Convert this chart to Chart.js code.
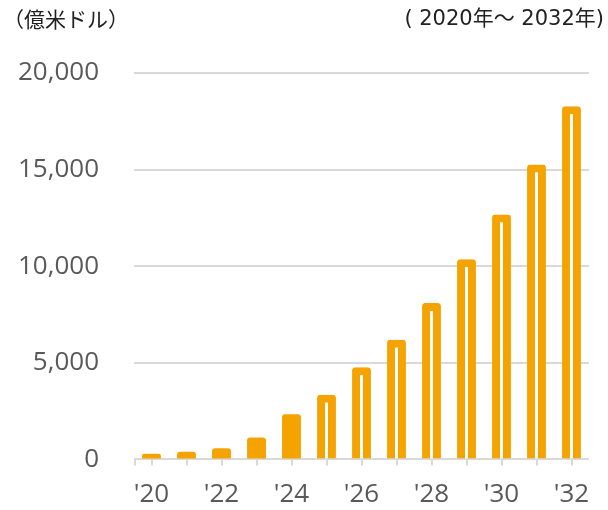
<!DOCTYPE html>
<html><head><meta charset="utf-8">
<script src="https://cdn.jsdelivr.net/npm/chart.js@4/dist/chart.umd.min.js"></script>
<style>
html,body{margin:0;padding:0;background:#fff;}
#wrap{position:relative;width:608px;height:510px;}
#c{position:absolute;left:0;top:0;}
.t{position:absolute;top:4px;font-family:"DejaVu Sans","Noto Sans CJK JP",sans-serif;font-size:21px;line-height:28px;color:#222;white-space:nowrap;}
</style></head>
<body>
<div id="wrap">
<canvas id="c" width="608" height="510"></canvas>
<div class="t" id="unit" style="left:3px;font-family:'Noto Sans CJK JP',sans-serif;">（億米ドル）</div>
<div class="t" id="period" style="right:4px;">( 2020年～ 2032年)</div>
</div>
<script>
const categories = ["'20","'21","'22","'23","'24","'25","'26","'27","'28","'29","'30","'31","'32"];
const values = [290, 390, 580, 1130, 2340, 3350, 4770, 6190, 8100, 10360, 12670, 15260, 18280];
const yTicks = [0, 5000, 10000, 15000, 20000];
const forecastStart = 5; // bars from '25 drawn outlined

const ORANGE = '#F5A300';
const GRID = '#d9d9d9';
const TXT = '#595959';

const leftTick = {
  id: 'leftTick',
  afterDraw(chart) {
    const ctx = chart.ctx, a = chart.chartArea, y = chart.scales.y.getPixelForValue(0);
    ctx.save();
    ctx.strokeStyle = GRID; ctx.lineWidth = 2;
    ctx.beginPath(); ctx.moveTo(a.left + 1, y); ctx.lineTo(a.left + 1, y + 6); ctx.stroke();
    ctx.restore();
  }
};

new Chart(document.getElementById('c'), {
  type: 'bar',
  data: {
    labels: categories,
    datasets: [{
      data: values,
      backgroundColor: values.map((v, i) => i < forecastStart ? ORANGE : '#ffffff'),
      borderColor: ORANGE,
      borderWidth: values.map((v, i) => i < forecastStart ? 0 : 8),
      borderSkipped: 'start',
      borderRadius: 3,
      barPercentage: 0.9,
      categoryPercentage: 0.6
    }]
  },
  options: {
    responsive: false,
    animation: false,
    layout: { padding: { top: 73, right: 19, left: 0, bottom: 0 } },
    plugins: { legend: { display: false }, tooltip: { enabled: false } },
    scales: {
      x: {
        offset: true,
        afterFit: s => { s.height = 47; },
        grid: { offset: false, drawOnChartArea: false, drawTicks: true, tickLength: 6, color: GRID, lineWidth: 2 },
        border: { display: false },
        ticks: {
          autoSkip: false, maxRotation: 0, padding: 16,
          color: TXT, font: { family: 'Open Sans', size: 26, lineHeight: 1.0 },
          callback: (v, i) => i % 2 === 0 ? categories[i] : ''
        }
      },
      y: {
        min: 0, max: 20000,
        afterFit: s => { s.width = 134; },
        afterBuildTicks: s => { s.ticks = yTicks.map(v => ({ value: v })); },
        grid: { drawTicks: false, color: GRID, lineWidth: 2 },
        border: { display: false },
        ticks: {
          padding: 35, color: TXT, font: { family: 'Open Sans', size: 26 },
          callback: v => v.toLocaleString('en-US')
        }
      }
    }
  },
  plugins: [leftTick]
});
</script>
</body></html>
